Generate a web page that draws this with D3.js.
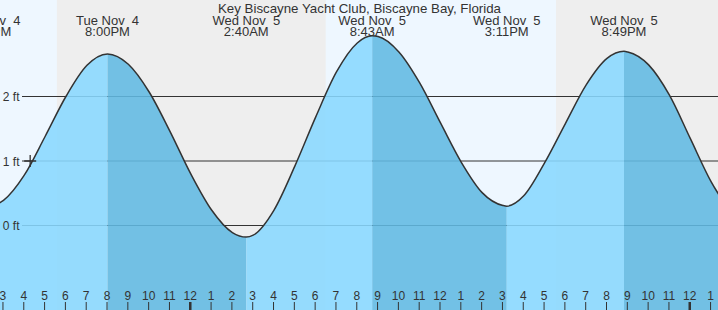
<!DOCTYPE html>
<html>
<head>
<meta charset="utf-8">
<script src="https://cdn.jsdelivr.net/npm/d3@7"></script>
<style>
  html, body { margin: 0; padding: 0; background: #fff; }
  svg { display: block; }
  text { font-family: "Liberation Sans", Arial, sans-serif; fill: #333; }
</style>
</head>
<body>
<script>
// ---- data ----
const title = "Key Biscayne Yacht Club, Biscayne Bay, Florida";

const tideTimes = [
  "2025-11-04 14:00","2025-11-04 14:18","2025-11-04 15:00","2025-11-04 16:00","2025-11-04 17:00",
  "2025-11-04 18:00","2025-11-04 19:00","2025-11-04 20:00","2025-11-04 21:00","2025-11-04 22:00",
  "2025-11-04 23:00","2025-11-05 00:00","2025-11-05 01:00","2025-11-05 02:00","2025-11-05 02:40",
  "2025-11-05 03:00","2025-11-05 04:00","2025-11-05 05:00","2025-11-05 06:00","2025-11-05 07:00",
  "2025-11-05 08:00","2025-11-05 08:43","2025-11-05 09:00","2025-11-05 10:00","2025-11-05 11:00",
  "2025-11-05 12:00","2025-11-05 13:00","2025-11-05 14:00","2025-11-05 15:00","2025-11-05 15:11",
  "2025-11-05 16:00","2025-11-05 17:00","2025-11-05 18:00","2025-11-05 19:00","2025-11-05 20:00",
  "2025-11-05 20:49","2025-11-05 21:00","2025-11-05 22:00","2025-11-05 23:00","2025-11-06 00:00",
  "2025-11-06 01:00","2025-11-06 02:00"
];
const tideHeights = [
  0.31, 0.30, 0.39, 0.78, 1.38,
  2.00, 2.48, 2.66, 2.50, 2.07,
  1.46, 0.80, 0.24, -0.11, -0.18,
  -0.15, 0.24, 0.92, 1.68, 2.38,
  2.83, 2.94, 2.93, 2.69, 2.21,
  1.59, 0.98, 0.51, 0.31, 0.30,
  0.46, 0.97, 1.58, 2.18, 2.59,
  2.70, 2.69, 2.49, 2.02, 1.35,
  0.68, 0.18
];

const extremeTimes = ["2025-11-04 14:18","2025-11-04 20:00","2025-11-05 02:40","2025-11-05 08:43","2025-11-05 15:11","2025-11-05 20:49"];
const extremeTypes = ["low","high","low","high","low","high"];
const extremeDays  = ["Tue Nov  4","Tue Nov  4","Wed Nov  5","Wed Nov  5","Wed Nov  5","Wed Nov  5"];
const extremeClock = ["2:18PM","8:00PM","2:40AM","8:43AM","3:11PM","8:49PM"];

const nightStarts = ["2025-11-04 17:34","2025-11-05 17:33"];
const nightEnds   = ["2025-11-05 06:29","2025-11-06 06:30"];

const yTicks = [0, 1, 2];
const yTickLabels = ["0 ft","1 ft","2 ft"];

const markerTime = "2025-11-04 16:17";
const markerHeight = 1.0;

const viewStart = "2025-11-04 14:50";
const viewEnd   = "2025-11-06 01:20";

// ---- drawing ----
const W = 718, H = 310;
const parse = d3.utcParse("%Y-%m-%d %H:%M");

const x = d3.scaleUtc().domain([parse(viewStart), parse(viewEnd)]).range([0, W]);
const y = d3.scaleLinear().domain([0, 2]).range([225.5, 96.5]);

const tide = tideTimes.map((t, i) => ({ t: parse(t), h: tideHeights[i] }));
const ext = extremeTimes.map((t, i) => ({ t: parse(t), type: extremeTypes[i], day: extremeDays[i], clock: extremeClock[i] }));

const svg = d3.select("body").append("svg").attr("width", W).attr("height", H);

// background: day
svg.append("rect").attr("x", 0).attr("y", 0).attr("width", W).attr("height", H).attr("fill", "#eef7ff");
// night bands
svg.append("g").selectAll("rect").data(nightStarts.map((s, i) => [parse(s), parse(nightEnds[i])]))
  .join("rect")
  .attr("x", d => x(d[0]))
  .attr("width", d => x(d[1]) - x(d[0]))
  .attr("y", 0).attr("height", H)
  .attr("fill", "#eeeeee");

// grid lines (under fill)
svg.append("g").selectAll("line").data(yTicks).join("line")
  .attr("x1", 22).attr("x2", W)
  .attr("y1", d => y(d)).attr("y2", d => y(d))
  .attr("stroke", "#333").attr("stroke-width", 1);

// area
const area = d3.area().x(d => x(d.t)).y0(H).y1(d => y(d.h)).curve(d3.curveMonotoneX);
const line = d3.line().x(d => x(d.t)).y(d => y(d.h)).curve(d3.curveMonotoneX);

svg.append("clipPath").attr("id", "tideClip").append("path").attr("d", area(tide));

// segments between extremes: rising light, falling dark
const bounds = [parse(viewStart)].concat(ext.map(e => e.t)).concat([parse(viewEnd)]);
const segs = [];
for (let i = 0; i < bounds.length - 1; i++) {
  let falling;
  if (i === 0) falling = ext[0].type === "low";
  else falling = ext[i - 1].type === "high";
  segs.push({ a: bounds[i], b: bounds[i + 1], falling });
}
svg.append("g").attr("clip-path", "url(#tideClip)")
  .selectAll("rect").data(segs).join("rect")
  .attr("x", d => Math.max(-5, x(d.a)))
  .attr("width", d => x(d.b) - Math.max(-5, x(d.a)) + (d.b.getTime() === parse(viewEnd).getTime() ? 5 : 0))
  .attr("y", 0).attr("height", H)
  .attr("fill", d => d.falling ? "#61bae3" : "#89d8ff")
  .attr("fill-opacity", 0.88);

// tide curve
svg.append("path").attr("d", line(tide))
  .attr("fill", "none").attr("stroke", "#333").attr("stroke-width", 1.5);

// y labels (on top of fill)
svg.append("g").selectAll("text").data(yTicks).join("text")
  .attr("x", 19.5).attr("y", d => y(d) + 4.5)
  .attr("text-anchor", "end")
  .style("font-size", "12px")
  .text((d, i) => yTickLabels[i]);

// marker cross
const mx = x(parse(markerTime)), my = y(markerHeight);
svg.append("path")
  .attr("d", `M${mx - 6},${my}H${mx + 6}M${mx},${my - 6}V${my + 6}`)
  .attr("stroke", "#333").attr("stroke-width", 1.3).attr("fill", "none");

// title
svg.append("text").attr("x", 359.5).attr("y", 12.5).attr("text-anchor", "middle")
  .style("font-size", "13.3px").text(title);

// extreme labels
const lab = svg.append("g").selectAll("g").data(ext).join("g")
  .attr("transform", d => `translate(${x(d.t)},0)`);
lab.append("text").attr("y", 24.5).attr("text-anchor", "middle")
  .style("font-size", "13px").style("white-space", "pre").text(d => d.day);
lab.append("text").attr("y", 36).attr("text-anchor", "middle")
  .style("font-size", "13px").text(d => d.clock);

// bottom hour axis
const hours = d3.utcHour.range(parse("2025-11-04 15:00"), parse("2025-11-06 02:00"));
const axis = d3.axisTop(x).tickValues(hours).tickSize(8).tickPadding(2)
  .tickFormat(d => String(d.getUTCHours() % 12 || 12));
const ag = svg.append("g").attr("transform", `translate(-1,${H})`).call(axis);
ag.select(".domain").remove();
ag.selectAll(".tick line").attr("stroke", "#333")
  .attr("stroke-width", d => d.getUTCHours() === 0 ? 2.5 : 1);
ag.selectAll(".tick text").attr("fill", "#333")
  .style("font-size", "12px").style("font-family", "'Liberation Sans', Arial, sans-serif");
</script>
</body>
</html>
